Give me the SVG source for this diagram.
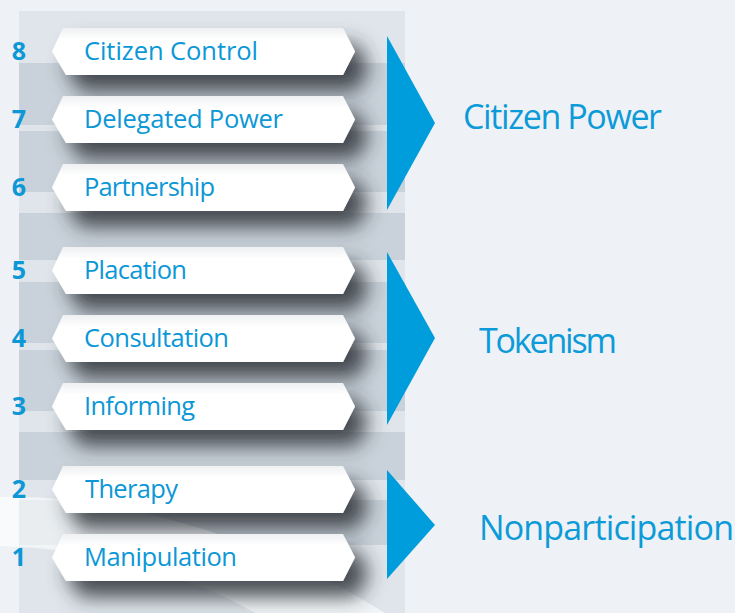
<svg xmlns="http://www.w3.org/2000/svg" width="735" height="613" viewBox="0 0 735 613">
<defs>
<style>
.num{font-family:"Open Sans","Liberation Sans",sans-serif;font-weight:700;font-size:25px;fill:#0c97d6;text-anchor:middle}
.lbl{font-family:"Open Sans","Liberation Sans",sans-serif;font-size:25.5px;fill:#0c97d6}
.big{font-family:"Open Sans","Liberation Sans",sans-serif;font-size:34px;fill:#0c9ad8}
.tri{fill:#009ddc}
.hex{fill:url(#hexg);filter:url(#sh)}
.band{fill:#c9d2da}
</style>
<linearGradient id="hexg" x1="0" y1="0" x2="0" y2="1">
<stop offset="0" stop-color="#eef0f2"/>
<stop offset="0.25" stop-color="#ffffff"/>
<stop offset="1" stop-color="#ffffff"/>
</linearGradient>
<filter id="sh" x="-15%" y="-70%" width="140%" height="280%">
<feGaussianBlur in="SourceAlpha" stdDeviation="10"/>
<feOffset dx="14" dy="16" result="b"/>
<feFlood flood-color="#2c3137" flood-opacity="0.85"/>
<feComposite in2="b" operator="in"/>
<feMerge><feMergeNode/><feMergeNode in="SourceGraphic"/></feMerge>
</filter>
<path id="hx" d="M52,0 L63,-23.5 L343,-23.5 L355,0 L343,23.5 L66,23.5 Z"/>
</defs>
<rect width="735" height="613" fill="#eef2f6"/>
<g id="panel">
<rect x="19" y="11" width="386" height="602" fill="#dfe5ea"/>
<rect class="band" x="19" y="63" width="386" height="62"/>
<rect class="band" x="19" y="131" width="386" height="61"/>
<rect class="band" x="19" y="213" width="386" height="47"/>
<rect class="band" x="19" y="282" width="386" height="61"/>
<rect class="band" x="19" y="350" width="386" height="61"/>
<rect class="band" x="19" y="432" width="386" height="48"/>
<rect class="band" x="19" y="500" width="386" height="45"/>
<path d="M0,497 C120,494 270,540 385,613 L255,613 C185,572 90,548 0,546 Z" fill="#ffffff" opacity="0.6"/>
</g>
<g id="connectors">
<polygon class="tri" points="387,36 435,123 387,210"/>
<polygon class="tri" points="387,252 435,338 387,425"/>
<polygon class="tri" points="387,470 435,525 387,579"/>
</g>
<g id="node-8"><use href="#hx" class="hex" transform="translate(0,51.5)"/><text class="num" x="19" y="60">8</text><text class="lbl" x="84" y="60" textLength="174">Citizen Control</text></g>
<g id="node-7"><use href="#hx" class="hex" transform="translate(0,119.5)"/><text class="num" x="19" y="128">7</text><text class="lbl" x="84" y="128" textLength="199">Delegated Power</text></g>
<g id="node-6"><use href="#hx" class="hex" transform="translate(0,187.5)"/><text class="num" x="19" y="196">6</text><text class="lbl" x="84" y="196" textLength="131">Partnership</text></g>
<g id="node-5"><use href="#hx" class="hex" transform="translate(0,270.5)"/><text class="num" x="19" y="279">5</text><text class="lbl" x="84" y="279" textLength="103">Placation</text></g>
<g id="node-4"><use href="#hx" class="hex" transform="translate(0,338.5)"/><text class="num" x="19" y="347">4</text><text class="lbl" x="84" y="347" textLength="145">Consultation</text></g>
<g id="node-3"><use href="#hx" class="hex" transform="translate(0,406.5)"/><text class="num" x="19" y="415">3</text><text class="lbl" x="84" y="415" textLength="111">Informing</text></g>
<g id="node-2"><use href="#hx" class="hex" transform="translate(0,489.5)"/><text class="num" x="19" y="498">2</text><text class="lbl" x="85" y="498" textLength="93">Therapy</text></g>
<g id="node-1"><use href="#hx" class="hex" transform="translate(0,557.5)"/><text class="num" x="19" y="566">1</text><text class="lbl" x="84" y="566" textLength="153">Manipulation</text></g>
<g id="group-citizen-power"><text class="big" x="463" y="129" textLength="199">Citizen Power</text></g>
<g id="group-tokenism"><text class="big" x="479" y="353" textLength="138">Tokenism</text></g>
<g id="group-nonparticipation"><text class="big" x="479" y="540" textLength="255">Nonparticipation</text></g>
</svg>
